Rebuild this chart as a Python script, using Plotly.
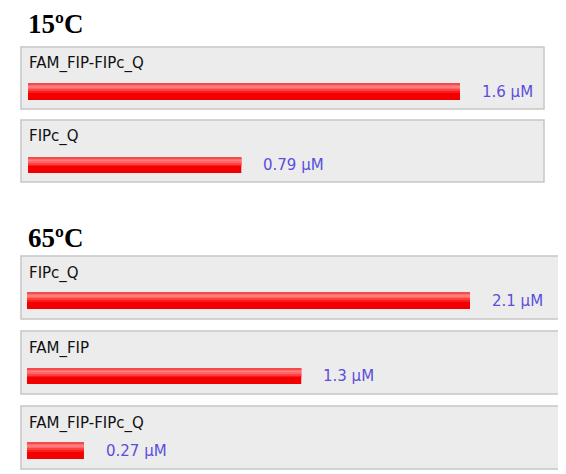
import plotly.graph_objects as go

W, H = 566, 474
PAD = 8  # the page body keeps an 8px margin round the figure
FW, FH = W - PAD, H - PAD

# data
section_titles = ["15ºC", "65ºC"]
names_15 = ["FAM_FIP-FIPc_Q", "FIPc_Q"]
values_15 = [1.6, 0.79]
names_65 = ["FIPc_Q", "FAM_FIP", "FAM_FIP-FIPc_Q"]
values_65 = [2.1, 1.3, 0.27]
unit = "µM"

# pixel layout of each row: (panel top, panel bottom, bar top, bar bottom)
rows_15 = [(47, 109, 83, 100), (120, 182, 157, 173)]
rows_65 = [(256, 319, 292, 309), (331, 394, 368, 384), (406, 469, 442, 459)]

sections = [
    # title, title y, names, values, rows, panel right edge, bar left, bar end at max
    (section_titles[0], 24, names_15, values_15, rows_15, 544, 28, 460),
    (section_titles[1], 238, names_65, values_65, rows_65, 563, 27, 470),
]

# glossy bar look: (offset, width, colour) inside a 0..1 y range
bands = [
    (0.0, 1.0, "#f20000"),
    (0.45, 0.1, "#ff1a1a"),
    (0.55, 0.1, "#ff4040"),
    (0.65, 0.1, "#ff6666"),
    (0.75, 0.1, "#ff7e7e"),
    (0.85, 0.08, "#ff6c6c"),
    (0.93, 0.07, "#f04c4c"),
]


def px(x):
    return (x - PAD) / FW


def py(y):
    return 1 - (y - PAD) / FH


PANEL_LEFT = 21
fig = go.Figure()
shapes, annotations = [], []
layout_axes = {}
k = 0

for title, ty, names, values, rows, right, bar_left, bar_end in sections:
    annotations.append(dict(
        text=f"<b>{title}</b>", x=px(26), y=py(ty), xref="paper", yref="paper",
        xanchor="left", yanchor="middle", showarrow=False,
        font=dict(family="Liberation Serif", size=27, color="black")))
    vmax = max(values)
    for name, v, (ptop, pbot, btop, bbot) in zip(names, values, rows):
        k += 1
        xa = "x" if k == 1 else f"x{k}"
        ya = "y" if k == 1 else f"y{k}"
        layout_axes["xaxis" if k == 1 else f"xaxis{k}"] = dict(
            domain=[px(bar_left), px(bar_end)], range=[0, vmax], visible=False,
            anchor=ya, fixedrange=True)
        layout_axes["yaxis" if k == 1 else f"yaxis{k}"] = dict(
            domain=[py(bbot), py(btop)], range=[0, 1], visible=False,
            anchor=xa, fixedrange=True)

        shapes.append(dict(
            type="rect", xref="paper", yref="paper", layer="below",
            x0=px(PANEL_LEFT), x1=px(right), y0=py(pbot), y1=py(ptop),
            fillcolor="#ececec", line=dict(color="#c6c6c6", width=1.5)))

        for off, wid, col in bands:
            fig.add_trace(go.Bar(
                x=[v], y=[0], orientation="h", offset=[off], width=[wid],
                marker=dict(color=col, line=dict(width=0)),
                xaxis=xa, yaxis=ya, hoverinfo="skip", showlegend=False))

        annotations.append(dict(
            text=name, x=px(27), y=py(ptop + 17), xref="paper", yref="paper",
            xanchor="left", yanchor="middle", showarrow=False,
            font=dict(family="DejaVu Sans", size=15, color="#111111")))
        annotations.append(dict(
            text=f"{v} {unit}", x=v, y=0.5, xref=xa, yref=ya,
            xanchor="left", yanchor="middle", xshift=20, showarrow=False,
            font=dict(family="DejaVu Sans", size=15, color="#5a4fdc")))

fig.update_layout(
    width=FW, height=FH,
    margin=dict(l=0, r=0, t=0, b=0),
    paper_bgcolor="white", plot_bgcolor="rgba(0,0,0,0)",
    barmode="overlay",
    shapes=shapes, annotations=annotations,
    **layout_axes,
)

fig.write_html("out.html", config={"displayModeBar": False})
